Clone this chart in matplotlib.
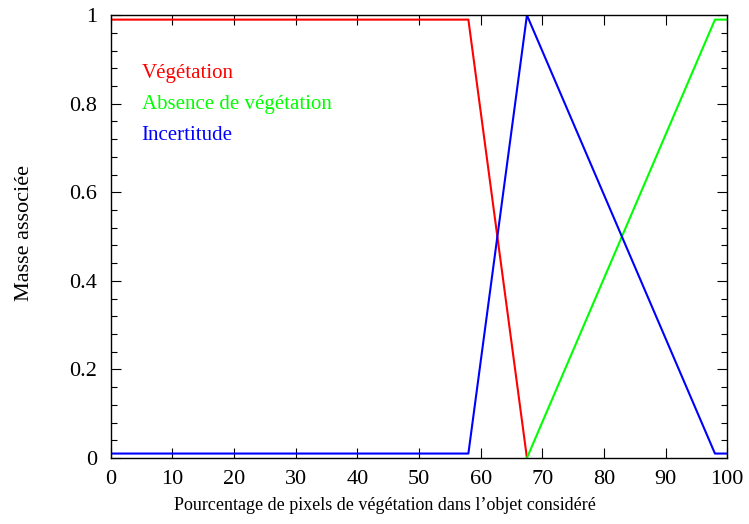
import matplotlib
matplotlib.use("Agg")
import matplotlib.pyplot as plt
from matplotlib.ticker import MultipleLocator

plt.rcParams["font.family"] = ["Liberation Serif", "DejaVu Serif"]

# Fonctions de masse en fonction du pourcentage de pixels de végétation
VEG_X = [0, 58, 67.5]
VEG_Y = [0.99, 0.99, 0.0]
ABS_X = [67.5, 98, 100]
ABS_Y = [0.0, 0.99, 0.99]
INC_X = [0, 58, 67.5, 98, 100]
INC_Y = [0.01, 0.01, 1.0, 0.01, 0.01]

SERIES = [
    ("Végétation", VEG_X, VEG_Y, "#ff0000"),
    ("Absence de végétation", ABS_X, ABS_Y, "#00ff00"),
    ("Incertitude", INC_X, INC_Y, "#0000ff"),
]


def main() -> None:
    fig = plt.figure(figsize=(7.49, 5.24), dpi=100)
    ax = fig.add_axes([0.148, 0.126, 0.823, 0.845])

    for label, xs, ys, color in SERIES:
        ax.plot(xs, ys, color=color, linewidth=1.5, label=label)

    ax.set_xlim(0, 100)
    ax.set_ylim(0, 1)
    ax.xaxis.set_major_locator(MultipleLocator(10))
    ax.yaxis.set_minor_locator(MultipleLocator(0.04))
    ax.set_yticks([0, 0.2, 0.4, 0.6, 0.8, 1.0])
    ax.set_yticklabels(["0", "0.2", "0.4", "0.6", "0.8", "1"])

    ax.tick_params(which="both", direction="in", top=True, right=True,
                   labelsize=16, width=0.8)
    ax.tick_params(which="major", length=7)
    ax.tick_params(axis="y", which="major", pad=10)
    ax.tick_params(axis="x", which="major", pad=9)
    ax.tick_params(which="minor", length=4)
    for spine in ax.spines.values():
        spine.set_linewidth(1.0)

    ax.set_xlabel("Pourcentage de pixels de végétation dans l’objet considéré",
                  fontsize=13, va="center")
    ax.xaxis.set_label_coords(0.445, -0.108)
    ax.set_ylabel("Masse associée", fontsize=16, va="center")
    ax.yaxis.set_label_coords(-0.14, 0.509)

    # Légende sous forme de textes colorés
    for i, (label, _, _, color) in enumerate(SERIES):
        ax.text(0.05, 0.869 - i * 0.07, label, color=color, fontsize=15,
                transform=ax.transAxes, va="center", ha="left")

    fig.savefig("out.png", dpi=100)
    plt.close(fig)


if __name__ == "__main__":
    main()
